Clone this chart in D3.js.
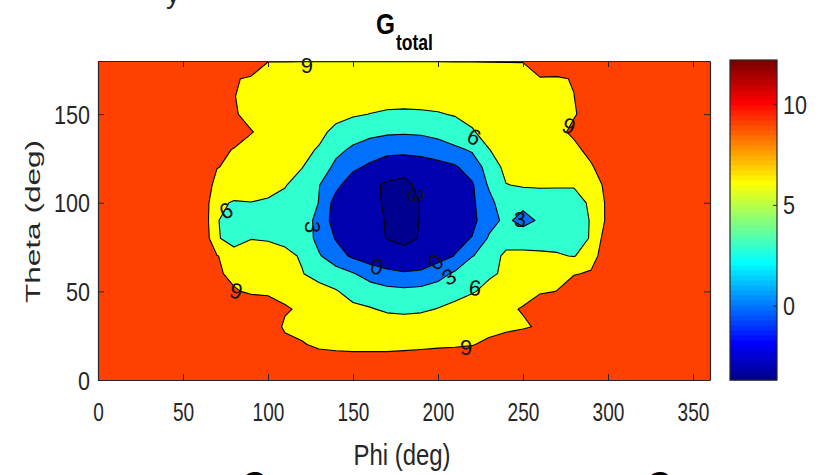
<!DOCTYPE html>
<html>
<head>
<meta charset="utf-8">
<script src="https://cdn.jsdelivr.net/npm/d3@7"></script>
<style>
  html, body { margin: 0; padding: 0; background: #ffffff; }
  svg { display: block; }
  text { font-family: "Liberation Sans", Arial, Helvetica, sans-serif; }
</style>
</head>
<body>
<svg id="chart" width="819" height="475"></svg>
<script>
// Sampling grid of the total gain (dB) over the sphere
const phiDeg   = [0,10,20,30,40,50,60,70,80,90,100,110,120,130,140,150,160,170,180,190,200,210,220,230,240,250,260,270,280,290,300,310,320,330,340,350,360];
const thetaDeg = [0,10,20,30,40,50,60,70,80,90,100,110,120,130,140,150,160,170,180];

// One row per theta value, one column per phi value
const gTotal = [
  /* 0 */   [12,12,12,12,12,12,12,12,12,12,12,12,12,12,12,12,12,12,12,12,12,12,12,12,12,12,12,12,12,12,12,12,12,12,12,12,12],
  /* 10 */  [12,12,12,12,12,12,12,12,12,12,12,12,11.5,11.1,10.7,10.5,10.5,10.5,10.9,11.3,11.0,11.3,12,12,12,12,12,12,12,12,12,12,12,12,12,12,12],
  /* 20 */  [12,12,12,12,12,12,12,12,12,12,12,10.5,9.3,8.3,8.1,8.0,8.0,8.0,8.0,8.1,8.5,8.6,8.8,9.8,11.0,12,12,12,12,12,12,12,12,12,12,12,12],
  /* 30 */  [12,12,12,12,12,12,12,12,12,12,12,8.25,7.9,7.7,7.6,7.5,7.5,7.5,7.5,7.5,7.5,7.6,7.7,7.8,8.1,8.6,9.4,12,12,12,12,12,12,12,12,12,12],
  /* 40 */  [12,12,12,12,12,12,12,12,12,12,12,9.5,8.3,7.8,7.2,6.6,6.2,5.6,5.4,5.6,6.1,6.8,7.3,7.8,8.5,9.21,12,12,12,12,12,12,12,12,12,12,12],
  /* 50 */  [12,12,12,12,12,12,12,12,9.4,8.4,8.0,7.6,7.2,6.8,6.2,5.0,4.4,3.9,3.7,3.9,4.4,5.0,5.8,6.6,7.4,8.0,8.5,9.05,12,12,12,12,12,12,12,12,12],
  /* 60 */  [12,12,12,12,12,12,12,9.6,8.0,7.6,7.2,6.8,6.1,5.2,4.3,3.2,1.8,0.8,0.3,0.6,1.9,3.5,4.8,5.7,6.3,7.0,7.6,8.1,8.7,9.5,12,12,12,12,12,12,12],
  /* 70 */  [12,12,12,12,12,12,12,9.1,8.0,7.4,7.0,6.5,5.8,3.3,1.2,-0.5,-1.6,-2.2,-2.5,-2.2,-1.2,0.1,2.9,3.9,6.9,6.6,6.4,6.2,5.9,7.0,12,12,12,12,12,12,12],
  /* 80 */  [12,12,12,12,12,12,12,6.5,4.0,5.9,5.8,5.5,5.0,2.0,-0.22,-1.5,-2.5,-3.05,-3.35,-2.9,-2.0,-0.8,0.1,3.32,4.2,4.8,5.0,5.2,5.4,6.1,10.9,12,12,12,12,12,12],
  /* 90 */  [12.2,12,12,12,12,12,11.8,6.2,4.5,4.7,5.0,5.3,5.5,1.5,-1.0,-1.5,-2.0,-3.2,-3.7,-2.9,-2.3,-1.6,-0.86,2.0,3.6,2.0,3.43,4.5,5.2,6.1,9.7,11.0,12,12,12,12,12.2],
  /* 100 */ [12,12,12,12,12,12,11.8,6.5,5.79,5.95,5.7,5.5,5.3,2.9,-1.24,-2.0,-2.6,-3.2,-3.5,-2.95,-2.4,-1.7,-0.5,2.0,5.0,3.8,4.6,5.0,5.5,6.2,9.7,11.5,12,12,12,12,12],
  /* 110 */ [12,12,12,12,12,12,12,7.8,7.5,7.2,6.8,6.1,5.2,3.1,0.8,-1.87,-2.7,-3.2,-3.3,-2.7,-2.0,-1.2,-0.4,3.4,5.9,6.3,6.3,6.2,6.1,7.5,9.8,12,12,12,12,12,12],
  /* 120 */ [12,12,12,12,12,12,12,9.1,8.4,8.0,7.5,6.8,6.05,4.8,2.23,0.6,-0.6,-2.2,-2.6,-2.0,-1.2,-0.4,1.4,4.07,6.83,7.2,7.5,7.8,8.2,8.8,10.0,12,12,12,12,12,12],
  /* 130 */ [12,12,12,12,12,12,12,10.5,8.7,8.3,7.9,7.4,6.6,5.8,3.8,2.5,1.6,1.2,1.1,1.3,1.8,2.5,3.3,5.95,6.8,7.3,7.7,8.0,8.6,9.5,12,12,12,12,12,12,12],
  /* 140 */ [12,12,12,12,12,12,12,12,12,9.1,8.4,8.0,7.5,6.6,5.4,4.4,3.8,3.4,3.3,3.4,3.8,4.6,5.8,6.8,7.4,7.9,8.3,8.6,9.3,12,12,12,12,12,12,12,12],
  /* 150 */ [12,12,12,12,12,12,12,12,9.2,8.4,8.0,7.7,7.4,7.1,6.7,6.3,5.95,5.6,5.5,5.6,5.8,6.2,6.6,7.0,7.4,7.8,8.2,8.5,8.9,9.5,12,12,12,12,12,12,12],
  /* 160 */ [12,12,12,12,12,12,12,12,9.05,8.5,8.2,7.8,7.6,7.4,7.3,7.2,7.2,7.2,7.17,7.2,7.3,7.5,7.7,7.9,8.1,8.3,8.5,8.7,8.95,12,12,12,12,12,12,12,12],
  /* 170 */ [12,12,12,12,12,12,12,12,9.3,8.5,8.2,8.0,7.8,7.7,7.6,7.6,7.6,7.6,7.7,7.8,7.9,8.0,8.1,8.3,8.4,8.5,8.7,8.6,9.2,12,12,12,12,12,12,12,12],
  /* 180 */ [12,12,12,12,12,12,12,12,12,12,9.05,9.05,9.05,9.05,9.05,9.05,9.05,9.05,9.05,9.05,9.05,9.05,9.05,9.05,9.05,9.05,12,12,12,12,12,12,12,12,12,12,12]
];

const levels     = [-3, 0, 3, 6, 9];
const phiTicks   = [0, 50, 100, 150, 200, 250, 300, 350];
const thetaTicks = [0, 50, 100, 150];
const cbarTicks  = [0, 5, 10];

// Inline contour labels: level value and where it sits (phi, theta)
const labelLevel = [9, 9, 9, 9, 6, 6, 6, 3, 3, 3, 0, 0, -3];
const labelPhi   = [122.9, 277.0, 81.2, 216.5, 75.3, 221.2, 221.8, 125.9, 206.5, 248.2, 164.1, 198.8, 186.5];
const labelTheta = [177.7, 143.3, 50.2, 18.6, 95.4, 137.1, 51.9, 86.3, 58.1, 90.8, 63.8, 66.6, 106.1];
const labelAngle = [0, 20, 15, 0, -25, 25, 5, 90, -30, 0, 15, -40, 80];

// ---------------------------------------------------------------------------
const svg = d3.select("#chart");
const plot = { left: 98, right: 710, top: 61, bottom: 380 };
const cbar = { left: 730, right: 777, top: 60, bottom: 380 };
const frameColor = "#262626";

const x = d3.scaleLinear().domain(d3.extent(phiDeg)).range([plot.left, plot.right]);
const y = d3.scaleLinear().domain(d3.extent(thetaDeg)).range([plot.bottom, plot.top]);

const values = gTotal.flat();
const [cmin, cmax] = d3.extent(values);

// MATLAB-style 64-entry jet colormap
const u = [];
for (let k = 1; k <= 16; k++) u.push(k / 16);
for (let k = 0; k < 15; k++) u.push(1);
for (let k = 16; k >= 1; k--) u.push(k / 16);
function jetRow(r) {            // r = 1..64
  const pick = off => { const i = r - off; return (i >= 0 && i < u.length) ? u[i] : 0; };
  return d3.rgb(Math.round(255 * pick(25)), Math.round(255 * pick(9)), Math.round(255 * pick(-7))).formatHex();
}
const colorIndex = v => Math.min(63, Math.max(0, Math.floor((v - cmin) / (cmax - cmin) * 64)));
const colorFor = v => jetRow(colorIndex(v) + 1);

// Filled contours
const nx = phiDeg.length, ny = thetaDeg.length;
const dPhi = phiDeg[1] - phiDeg[0], dTheta = thetaDeg[1] - thetaDeg[0];
const contours = d3.contours().size([nx, ny]).thresholds(levels)(values);
const toPlot = d3.geoTransform({
  point(px, py) {
    this.stream.point(x(phiDeg[0] + (px - 0.5) * dPhi), y(thetaDeg[0] + (py - 0.5) * dTheta));
  }
});
const path = d3.geoPath(toPlot);

svg.append("defs").append("clipPath").attr("id", "plotClip")
  .append("rect")
  .attr("x", plot.left).attr("y", plot.top)
  .attr("width", plot.right - plot.left).attr("height", plot.bottom - plot.top);

const field = svg.append("g").attr("clip-path", "url(#plotClip)");
field.append("rect")
  .attr("x", plot.left).attr("y", plot.top)
  .attr("width", plot.right - plot.left).attr("height", plot.bottom - plot.top)
  .attr("fill", colorFor(cmin));
field.selectAll("path.band").data(contours).join("path")
  .attr("class", "band")
  .attr("d", path)
  .attr("fill", d => colorFor(d.value));
field.selectAll("path.iso").data(contours).join("path")
  .attr("class", "iso")
  .attr("d", path)
  .attr("fill", "none")
  .attr("stroke", "#000")
  .attr("stroke-width", 1.1)
  .attr("stroke-linejoin", "round");

// Contour labels
const labels = svg.append("g").attr("clip-path", null);
labelLevel.forEach((lv, i) => {
  labels.append("text")
    .attr("transform", `translate(${x(labelPhi[i])},${y(labelTheta[i])}) rotate(${labelAngle[i]})`)
    .attr("text-anchor", "middle")
    .attr("dominant-baseline", "central")
    .attr("font-size", 22)
    .attr("fill", "#111")
    .text(String(lv));
});

// Axes (inward ticks on all four sides)
function styleAxis(g) {
  g.selectAll(".domain").attr("stroke", frameColor).attr("stroke-width", 1.2);
  g.selectAll(".tick line").attr("stroke", frameColor).attr("stroke-width", 1);
}
const xAxisB = svg.append("g").attr("transform", `translate(0,${plot.bottom})`)
  .call(d3.axisBottom(x).tickValues(phiTicks).tickSize(-6).tickSizeOuter(0))
  .call(styleAxis);
xAxisB.selectAll("text")
  .attr("y", 41).attr("dy", null)
  .attr("font-size", 26).attr("fill", "#262626")
  .attr("font-family", "Liberation Sans, Arial, sans-serif")
  .attr("lengthAdjust", "spacingAndGlyphs")
  .attr("textLength", d => String(d).length * 10.6);

svg.append("g").attr("transform", `translate(0,${plot.top})`)
  .call(d3.axisTop(x).tickValues(phiTicks).tickSize(-6).tickSizeOuter(0).tickFormat(""))
  .call(styleAxis);

const yAxisL = svg.append("g").attr("transform", `translate(${plot.left},0)`)
  .call(d3.axisLeft(y).tickValues(thetaTicks).tickSize(-6).tickSizeOuter(0))
  .call(styleAxis);
yAxisL.selectAll("text")
  .attr("x", -8).attr("y", 9).attr("dy", null)
  .attr("font-size", 25).attr("fill", "#262626")
  .attr("font-family", "Liberation Sans, Arial, sans-serif")
  .attr("lengthAdjust", "spacingAndGlyphs")
  .attr("textLength", d => String(d).length * 12);

svg.append("g").attr("transform", `translate(${plot.right},0)`)
  .call(d3.axisRight(y).tickValues(thetaTicks).tickSize(-6).tickSizeOuter(0).tickFormat(""))
  .call(styleAxis);

// Colorbar
const cbY = d3.scaleLinear().domain([cmin, cmax]).range([cbar.bottom, cbar.top]);
const nBands = 64;
const bandStep = (cmax - cmin) / nBands;
svg.append("g").selectAll("rect").data(d3.range(nBands)).join("rect")
  .attr("x", cbar.left)
  .attr("width", cbar.right - cbar.left)
  .attr("y", k => cbY(cmin + (k + 1) * bandStep))
  .attr("height", k => cbY(cmin + k * bandStep) - cbY(cmin + (k + 1) * bandStep) + 0.5)
  .attr("fill", k => jetRow(k + 1));
svg.append("rect")
  .attr("x", cbar.left).attr("y", cbar.top)
  .attr("width", cbar.right - cbar.left).attr("height", cbar.bottom - cbar.top)
  .attr("fill", "none").attr("stroke", frameColor).attr("stroke-width", 1.2);
const cbAxis = svg.append("g").attr("transform", `translate(${cbar.right},0)`)
  .call(d3.axisRight(cbY).tickValues(cbarTicks).tickSize(-4).tickSizeOuter(0));
cbAxis.select(".domain").remove();
cbAxis.selectAll(".tick line").attr("stroke", frameColor);
cbAxis.selectAll("text")
  .attr("x", 6).attr("y", 9).attr("dy", null)
  .attr("font-size", 25).attr("fill", "#262626")
  .attr("font-family", "Liberation Sans, Arial, sans-serif")
  .attr("text-anchor", "start")
  .attr("lengthAdjust", "spacingAndGlyphs")
  .attr("textLength", d => String(d).length * 12);

// Axis titles
svg.append("text")
  .attr("x", (plot.left + plot.right) / 2 - 2).attr("y", 465)
  .attr("text-anchor", "middle")
  .attr("font-size", 30).attr("fill", "#262626")
  .attr("lengthAdjust", "spacingAndGlyphs").attr("textLength", 97)
  .text("Phi (deg)");
svg.append("text")
  .attr("transform", "translate(40,221.5) rotate(-90)")
  .attr("text-anchor", "middle")
  .attr("font-size", 21).attr("fill", "#262626")
  .attr("lengthAdjust", "spacingAndGlyphs").attr("textLength", 163)
  .text("Theta (deg)");

// Plot title G_total
svg.append("text")
  .attr("x", 376).attr("y", 34)
  .attr("font-size", 30).attr("font-weight", "bold").attr("fill", "#000")
  .attr("lengthAdjust", "spacingAndGlyphs").attr("textLength", 19)
  .text("G");
svg.append("text")
  .attr("x", 396).attr("y", 50)
  .attr("font-size", 22).attr("font-weight", "bold").attr("fill", "#000")
  .attr("lengthAdjust", "spacingAndGlyphs").attr("textLength", 37)
  .text("total");

// Edges of neighbouring panel titles
svg.append("text").attr("x", 166).attr("y", 3)
  .attr("font-size", 28).attr("fill", "#262626").text("y");
svg.append("text").attr("x", 243).attr("y", 492)
  .attr("font-size", 30).attr("font-weight", "bold").attr("fill", "#000").text("G");
svg.append("text").attr("x", 648).attr("y", 492)
  .attr("font-size", 30).attr("font-weight", "bold").attr("fill", "#000").text("G");
</script>
</body>
</html>
